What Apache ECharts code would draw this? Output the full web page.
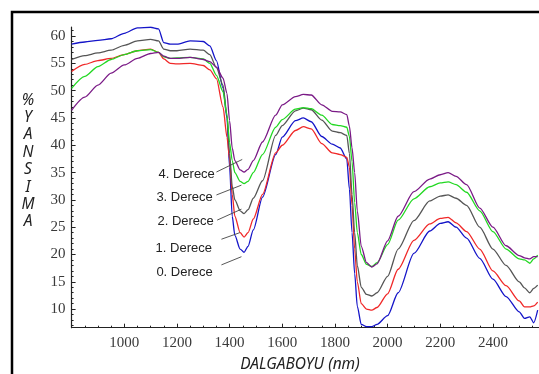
<!DOCTYPE html>
<html><head><meta charset="utf-8">
<script src="https://cdn.jsdelivr.net/npm/echarts@6/dist/echarts.min.js"></script>
<style>html,body{margin:0;padding:0;background:#fff}#c{width:539px;height:374px}</style>
</head><body><div id="c"></div>
<script>
const wavelengths = [800,850,900,950,1000,1050,1100,1130,1150,1175,1200,1250,1300,1325,1350,1375,1390,1400,1410,1420,1440,1455,1470,1490,1525,1575,1600,1650,1680,1710,1750,1790,1820,1845,1855,1865,1875,1885,1900,1920,1940,1960,2000,2040,2100,2160,2200,2230,2260,2300,2350,2400,2450,2500,2520,2540,2555,2570];
const derece0 = [58.5,58.9,59.2,59.5,60.5,61.5,61.6,61.3,58.8,58.5,58.5,59.1,59.0,58.2,55.5,50.5,45,36,27,23.5,21,20.4,21.5,24.5,30.5,38.3,41.5,44.5,45.0,44.3,41.6,40.2,39.5,37.5,32,24,16.5,10.5,7.2,6.8,6.8,7.2,8.8,13.0,20.2,24.3,25.7,26.0,25.0,23.0,19.3,15.5,12.3,9.5,8.3,8.6,7.5,9.8];
const derece1 = [53.5,54.8,55.5,55.9,56.6,57.3,57.6,57.0,55.8,55.0,54.9,55.0,54.6,53.8,52.2,47.0,41.5,37.5,31,27,24,23.2,24,26.5,31,38.6,40.0,42.7,43.4,43.0,40.3,38.6,38.3,37.8,36,29,21,15,11,10.0,9.8,10.3,12.8,17.3,22.6,25.6,26.6,26.8,25.8,24.2,21.0,17.0,14.3,11.5,10.4,10.4,10.6,11.3];
const derece2 = [55.7,56.4,56.9,57.4,58.3,59.1,59.4,59.1,57.6,57.3,57.3,57.6,57.4,56.6,54.2,51.0,45.5,38.5,32.5,30,28,27.5,28.2,30.3,33.5,41.8,43.6,46.3,46.8,46.5,44.6,42.6,42.3,41.8,38.5,31,24,18,14,12.7,12.4,13.0,16.0,21.0,26.2,29.8,30.7,30.9,30.3,29.0,25.0,21.0,18.0,15.0,13.9,13.0,13.8,14.4];
const derece3 = [50.4,52.6,54.4,55.7,56.6,57.3,57.5,57.0,56.2,55.9,56.0,56.1,55.8,55.0,52.8,49.8,45.5,40.5,37.2,35.0,33.4,33.0,33.4,35.0,38.3,43.3,44.7,46.6,46.9,46.7,45.5,43.8,43.6,43.3,41.6,37,29.5,24,20,18.2,17.8,18.5,21.8,26.3,30.2,32.4,33.1,33.3,32.8,31.4,28.0,24.2,21.0,19.2,19.0,18.4,19.2,19.9];
const derece4 = [46.4,48.8,51.0,53.2,54.7,55.9,56.8,57.0,56.3,55.9,55.9,56.1,55.7,55.3,54.3,52.3,49.5,44.5,39.5,37.2,35.5,35.1,35.6,37.2,40.6,45.5,47.4,48.9,49.3,49.2,47.4,46.2,46.1,45.6,43.5,39.5,35,28,21.5,18.5,17.7,18.3,22.5,27.0,31.5,33.8,34.6,35.0,34.3,32.8,28.5,25.0,21.6,19.8,19.4,19.2,19.6,19.6];
const seriesNames = ['0. Derece','1. Derece','2. Derece','3. Derece','4. Derece'];
const xTicks = [1000,1200,1400,1600,1800,2000,2200,2400];
const yTicks = [10,15,20,25,30,35,40,45,50,55,60];
const xMinorTicks = [850,900,950,1050,1100,1150,1250,1300,1350,1450,1500,1550,1650,1700,1750,1850,1900,1950,2050,2100,2150,2250,2300,2350,2450,2500,2550];
const yMinorTicks = [7,8,9,11,12,13,14,16,17,18,19,21,22,23,24,26,27,28,29,31,32,33,34,36,37,38,39,41,42,43,44,46,47,48,49,51,52,53,54,56,57,58,59,61];
// annotation: label anchor (right end) and leader line, in data units
const annotations = [
  {text:'4. Derece', at:[1344,34.7], from:[1350,35.1], to:[1448,37.4]},
  {text:'3. Derece', at:[1336,30.5], from:[1350,30.9], to:[1445,32.7]},
  {text:'2. Derece', at:[1340,26.0], from:[1353,26.3], to:[1445,28.3]},
  {text:'1. Derece', at:[1333,21.2], from:[1369,22.8], to:[1439,24.0]},
  {text:'0. Derece', at:[1336,16.8], from:[1369,18.1], to:[1445,19.6]}
];
const colors = ['#1414c8','#f02828','#555555','#22d822','#7a1a86'];
const allValues = [derece0,derece1,derece2,derece3,derece4];

const chart = echarts.init(document.getElementById('c'));
const XMIN=800, XMAX=2575, YMIN=6.6, YMAX=61.65;
const SERIF = "'Liberation Serif','DejaVu Serif',serif";
const option = {
  animation:false,
  grid:{left:71.6, right:0, top:27, bottom:46.3},
  xAxis:[
    {type:'value', min:XMIN, max:XMAX, position:'bottom',
     axisLine:{lineStyle:{color:'#222', width:1.2}},
     axisTick:{inside:true, length:4, customValues:xTicks, lineStyle:{color:'#222'}},
     axisLabel:{customValues:xTicks, margin:8, fontFamily:SERIF, fontSize:15, color:'#3a3a3a', formatter:v=>String(v)},
     splitLine:{show:false}},
    {type:'value', min:XMIN, max:XMAX, position:'bottom',
     axisLine:{show:false},
     axisTick:{inside:true, length:2, customValues:xMinorTicks, lineStyle:{color:'#222'}},
     axisLabel:{show:false}, splitLine:{show:false}}
  ],
  yAxis:[
    {type:'value', min:YMIN, max:YMAX,
     axisLine:{show:true, lineStyle:{color:'#222', width:1.2}},
     axisTick:{show:true, inside:true, length:4, customValues:yTicks, lineStyle:{color:'#222'}},
     axisLabel:{customValues:yTicks, margin:6, fontFamily:SERIF, fontSize:15, color:'#3a3a3a', formatter:v=>String(v)},
     splitLine:{show:false}},
    {type:'value', min:YMIN, max:YMAX, position:'left',
     axisLine:{show:false},
     axisTick:{show:true, inside:true, length:2, customValues:yMinorTicks, lineStyle:{color:'#222'}},
     axisLabel:{show:false}, splitLine:{show:false}}
  ],
  series: allValues.map((vals,i)=>({
    name:seriesNames[i], type:'line', xAxisIndex:0, yAxisIndex:0,
    data: wavelengths.map((w,j)=>[w, vals[j]]),
    showSymbol:false, smooth:0.25, smoothMonotone:'x',
    lineStyle:{color:colors[i], width:1.3}, z:2
  }))
};
chart.setOption(option);

const g = [];
g.push({type:'rect', shape:{x:12, y:12, width:700, height:700}, style:{fill:'none', stroke:'#000', lineWidth:2.5}, z:100});
annotations.forEach(a=>{
  const p = chart.convertToPixel({xAxisIndex:0, yAxisIndex:0}, a.at);
  const p1 = chart.convertToPixel({xAxisIndex:0, yAxisIndex:0}, a.from);
  const p2 = chart.convertToPixel({xAxisIndex:0, yAxisIndex:0}, a.to);
  g.push({type:'text', x:p[0], y:p[1], style:{text:a.text, align:'right', verticalAlign:'middle', font:'13px "Liberation Sans"', fill:'#222'}, z:50});
  g.push({type:'line', shape:{x1:p1[0], y1:p1[1], x2:p2[0], y2:p2[1]}, style:{stroke:'#444', lineWidth:0.9}, z:50});
});
g.push({type:'text', x:300, y:365, style:{text:'DALGABOYU (nm)', align:'center', verticalAlign:'middle', font:'italic 15.5px "Noto Sans"', fill:'#222'}, z:50});
g.push({type:'text', x:28, y:161, style:{text:'%\nY\nA\nN\nS\nI\nM\nA', align:'center', verticalAlign:'middle', font:'italic 15.5px "Noto Sans"', lineHeight:17.4, fill:'#222'}, z:50});
chart.setOption({graphic:g});
</script>
</body></html>
